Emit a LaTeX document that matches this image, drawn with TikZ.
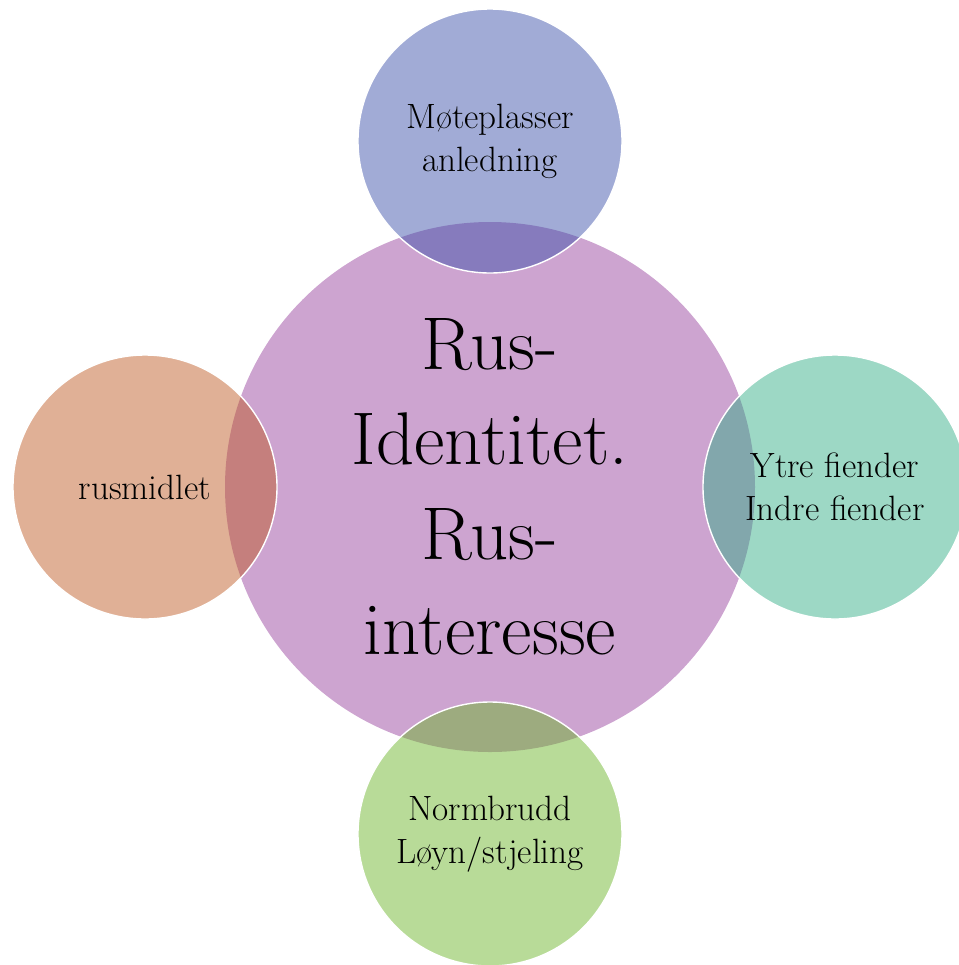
\documentclass[tikz,border=0pt]{standalone}
\usepackage{fontspec}
\usetikzlibrary{calc}

\definecolor{midpurple}{RGB}{205,164,208}
\definecolor{topblue}{RGB}{55,77,168}
\definecolor{leftorange}{RGB}{189,87,32}
\definecolor{rightgreen}{RGB}{47,172,132}
\definecolor{bottomgreen}{RGB}{104,179,36}

\begin{document}
\begin{tikzpicture}[
  bigcircle/.style={circle, fill=midpurple, minimum size=10.6cm, inner sep=0pt, align=center,
    font=\fontsize{42.5}{54}\selectfont},
  smallcircle/.style={circle, fill opacity=0.47, text opacity=1, draw=white, draw opacity=1,
    line width=0.8pt, minimum size=5.28cm, inner sep=0pt, align=center,
    font=\fontsize{20}{24.5}\selectfont}
]
\useasboundingbox (0,0) rectangle (19.18,-19.3);
\coordinate (O) at (9.8,-9.74);
% center circle
\node[bigcircle] (identitet) at (O) {Rus-\\Identitet.\\Rus-\\interesse};
% outer circles
\node[smallcircle, fill=topblue] (moteplass) at ($(O)+(0,6.92)$) {Møteplasser\\anledning};
\node[smallcircle, fill=leftorange] (rusmiddel) at ($(O)+(-6.9,0)$) {rusmidlet};
\node[smallcircle, fill=rightgreen] (fiender) at ($(O)+(6.9,0)$) {Ytre fiender\\Indre fiender};
\node[smallcircle, fill=bottomgreen] (normbrudd) at ($(O)+(0,-6.94)$) {Normbrudd\\Løyn/stjeling};
\end{tikzpicture}
\end{document}
